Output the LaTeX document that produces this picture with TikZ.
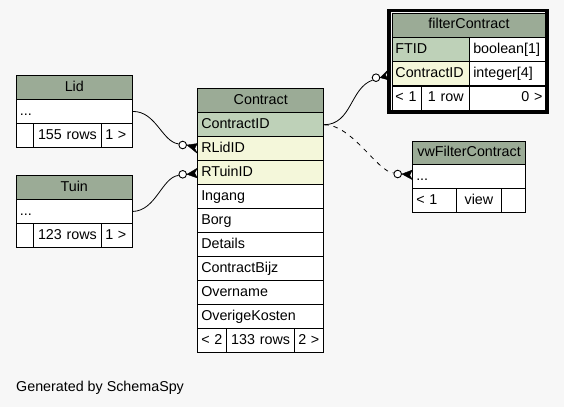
\documentclass[tikz,border=0pt]{standalone}
\usepackage{fontspec}
\setmainfont{Liberation Sans}
\usetikzlibrary{calc}
\definecolor{canvasbg}{HTML}{F7F7F7}
\definecolor{headgreen}{HTML}{9BAB96}
\definecolor{keygreen}{HTML}{BED1B8}
\definecolor{idxyellow}{HTML}{F4F7DA}
\newcommand\tabfont{\fontsize{14.3}{16}\selectfont}

\begin{document}
\begin{tikzpicture}[x=1pt,y=-1pt,
  cell/.style={draw=black, line width=0.9pt, fill=white, anchor=north west,
    minimum height=24pt, inner xsep=3.5pt, inner ysep=0pt,
    text height=10.5pt, text depth=3pt, font=\tabfont, align=left},
  head/.style={cell, fill=headgreen, align=center},
  keycell/.style={cell, fill=keygreen},
  idxcell/.style={cell, fill=idxyellow},
  mid/.style={align=center},
  rgt/.style={align=right},
  odot/.style={circle, draw=black, fill=white, line width=0.9pt,
    minimum size=7.6pt, inner sep=0pt},
  crow/.style={fill=black, draw=black, line width=0.4pt},
  rel/.style={draw=black, line width=0.8pt},
  implied/.style={rel, dash pattern=on 4.5pt off 5pt},
  frame/.style={draw=black, line width=3.6pt}
]
\fill[canvasbg] (0,0) rectangle (564,407);
\useasboundingbox (0,0) rectangle (564,407);

% table Lid
\node[head, text width=108.7pt] (lid-h) at (16,75) {Lid};
\node[cell, text width=108.7pt] (lid-r) at (16,99) {...};
\node[cell, minimum width=16.7pt] (lid-f1) at (16,123) {};
\node[cell, mid, text width=61.6pt] (lid-f2) at (32.7,123) {155 rows};
\node[cell, text width=23.4pt] (lid-f3) at (101.3,123) {1 >};

% table Tuin
\node[head, text width=108.7pt] (tuin-h) at (16,175) {Tuin};
\node[cell, text width=108.7pt] (tuin-r) at (16,199) {...};
\node[cell, minimum width=16.7pt] (tuin-f1) at (16,223) {};
\node[cell, mid, text width=61.6pt] (tuin-f2) at (32.7,223) {123 rows};
\node[cell, text width=23.4pt] (tuin-f3) at (101.3,223) {1 >};

% table Contract
\node[head, text width=119pt] (c-h) at (197.3,88.3) {Contract};
\node[keycell, text width=119pt] (c-cid) at (197.3,112.3) {ContractID};
\node[idxcell, text width=119pt] (c-rlid) at (197.3,136.3) {RLidID};
\node[idxcell, text width=119pt] (c-rtuin) at (197.3,160.3) {RTuinID};
\node[cell, text width=119pt] (c-ing) at (197.3,184.3) {Ingang};
\node[cell, text width=119pt] (c-borg) at (197.3,208.3) {Borg};
\node[cell, text width=119pt] (c-det) at (197.3,232.3) {Details};
\node[cell, text width=119pt] (c-bijz) at (197.3,256.3) {ContractBijz};
\node[cell, text width=119pt] (c-over) at (197.3,280.3) {Overname};
\node[cell, text width=119pt] (c-kost) at (197.3,304.3) {OverigeKosten};
\node[cell, text width=21.7pt] (c-f1) at (197.3,328.3) {< 2};
\node[cell, mid, text width=61.3pt] (c-f2) at (226,328.3) {133 rows};
\node[cell, text width=22pt] (c-f3) at (294.3,328.3) {2 >};

% table filterContract
\begin{scope}[every node/.append style={minimum height=24.4pt}]
\node[head, text width=147pt] (f-h) at (391.5,12.5) {filterContract};
\node[keycell, text width=70.8pt] (f-ftid) at (391.5,36.9) {FTID};
\node[cell, text width=69.2pt] (f-ftidt) at (469.3,36.9) {boolean[1]};
\node[idxcell, text width=70.8pt] (f-cid) at (391.5,61.3) {ContractID};
\node[cell, text width=69.2pt] (f-cidt) at (469.3,61.3) {integer[4]};
\node[cell, text width=22.8pt] (f-f1) at (391.5,85.7) {< 1};
\node[cell, mid, text width=41pt] (f-f2) at (421.3,85.7) {1 row};
\node[cell, rgt, text width=69.2pt] (f-f3) at (469.3,85.7) {0 >};
\end{scope}
\draw[frame] (389.2,10.6) rectangle (546.8,111.9);

% view vwFilterContract
\begin{scope}[every node/.append style={minimum height=23.7pt}]
\node[head, text width=105.7pt] (v-h) at (412.3,140.7) {vwFilterContract};
\node[cell, text width=105.7pt] (v-r) at (412.3,164.4) {...};
\node[cell, text width=37pt] (v-f1) at (412.3,188.1) {< 1};
\node[cell, mid, text width=37.4pt] (v-f2) at (456.3,188.1) {view};
\node[cell, minimum width=24.3pt] (v-f3) at (500.7,188.1) {};
\end{scope}

% relationship end markers
\node[odot] (o1) at (182.7,145) {};
\node[odot] (o2) at (182.7,174.3) {};
\node[odot] (o3) at (376,77.7) {};
\node[odot] (o4) at (397.7,174) {};

% relationships
\draw[rel] (lid-r.east) .. controls (156,111) and (162,142) .. (o1.165);
\draw[rel] (tuin-r.east) .. controls (156,211) and (162,177) .. (o2.195);
\draw[rel] (c-cid.east) .. controls (352,124.3) and (350,88) .. (o3.215);
\draw[implied] (c-cid.east) .. controls (352,124.3) and (378,172.7) .. (o4.165);

% crow's feet
\fill[crow] (o1.east) -- ($(c-rlid.west)+(0,-5.2)$) -- ($(c-rlid.west)+(-2.6,-0.3)$) -- ($(c-rlid.west)+(0,4.6)$) -- cycle;
\fill[crow] (o2.east) -- ($(c-rtuin.west)+(0,-4.6)$) -- ($(c-rtuin.west)+(-2.6,0.3)$) -- ($(c-rtuin.west)+(0,5.2)$) -- cycle;
\fill[crow] (o3.east) -- ($(f-cid.west)+(-3.6,-3.8)$) -- ($(f-cid.west)+(-6,1.2)$) -- ($(f-cid.west)+(-3.6,6)$) -- cycle;
\fill[crow] (o4.east) -- ($(v-r.west)+(0,-6.8)$) -- ($(v-r.west)+(-2.6,-1.6)$) -- ($(v-r.west)+(0,2.8)$) -- cycle;

\node[anchor=base west, inner sep=0pt, font=\tabfont] (gen) at (16,391.5) {Generated by SchemaSpy};
\end{tikzpicture}
\end{document}
